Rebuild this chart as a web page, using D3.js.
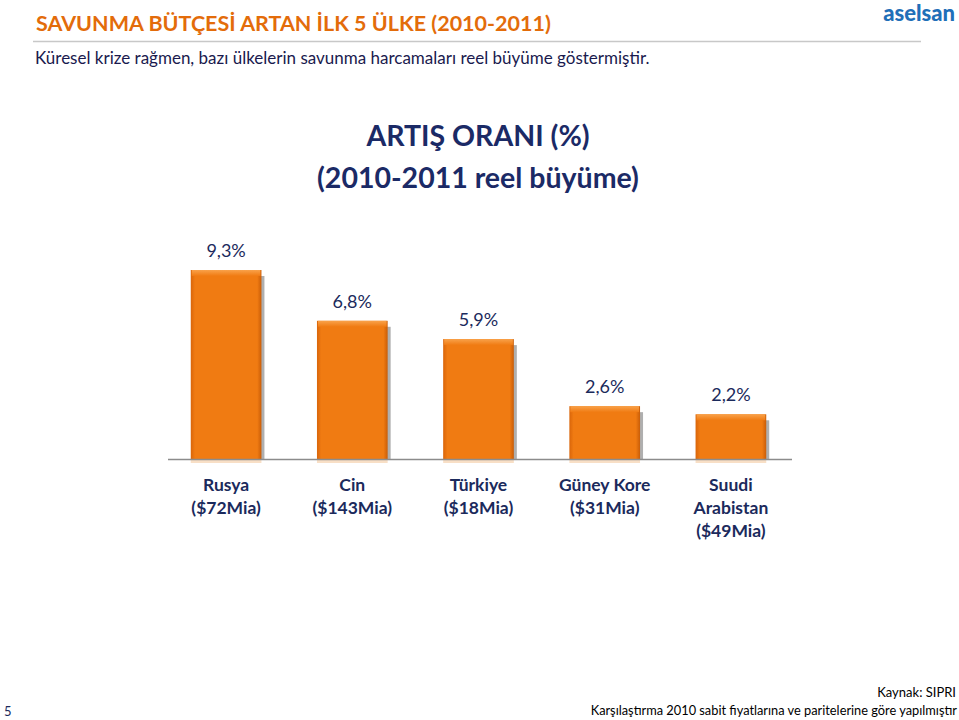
<!DOCTYPE html>
<html>
<head>
<meta charset="utf-8">
<script src="https://cdn.jsdelivr.net/npm/d3@7"></script>
<style>
	body { margin: 0; background: #fff; }
	text { font-family: Lato, 'Open Sans', sans-serif; }
</style>
</head>
<body>
<svg id="chart"></svg>
<script>
const countries = ['Rusya', 'Cin', 'Türkiye', 'Güney Kore', 'Suudi Arabistan']
const labelLines = [
	['Rusya', '($72Mia)'],
	['Cin', '($143Mia)'],
	['Türkiye', '($18Mia)'],
	['Güney Kore', '($31Mia)'],
	['Suudi', 'Arabistan', '($49Mia)']
]
const growth = [9.3, 6.8, 5.9, 2.6, 2.2]
const valueLabels = ['9,3%', '6,8%', '5,9%', '2,6%', '2,2%']

function drawChart() {
	const width = 959
	const height = 720

	const margin = { top: 270, right: 165, bottom: 261, left: 163 }

	const svg = d3.select('#chart').attr('width', width).attr('height', height)

	const xScale = d3
		.scaleBand()
		.domain(countries)
		.range([margin.left, width - margin.right])
		.paddingInner(0.44)
		.paddingOuter(0.22)
	const yScale = d3
		.scaleLinear()
		.domain([0, 9.3])
		.range([height - margin.bottom, margin.top])

	const data = countries.map((c, i) => ({
		country: c,
		value: growth[i],
		label: valueLabels[i],
		lines: labelLines[i]
	}))

	const defs = svg.append('defs')
	const grad = defs
		.append('linearGradient')
		.attr('id', 'barGrad')
		.attr('x1', 0)
		.attr('x2', 1)
	grad.append('stop').attr('offset', '0').attr('stop-color', '#d9650a')
	grad.append('stop').attr('offset', '0.06').attr('stop-color', '#f07b12')
	grad.append('stop').attr('offset', '0.94').attr('stop-color', '#f07b12')
	grad.append('stop').attr('offset', '1').attr('stop-color', '#c95d08')

	const topGrad = defs
		.append('linearGradient')
		.attr('id', 'topGrad')
		.attr('x1', 0)
		.attr('x2', 0)
		.attr('y1', 0)
		.attr('y2', 1)
	topGrad.append('stop').attr('offset', '0').attr('stop-color', '#f9a24a')
	topGrad.append('stop').attr('offset', '1').attr('stop-color', '#f07b12')

	// header
	svg
		.append('text')
		.attr('x', 36)
		.attr('y', 31)
		.attr('fill', '#e36c0a')
		.attr('font-size', 21.5)
		.attr('font-weight', 'bold')
		.text('SAVUNMA BÜTÇESİ ARTAN İLK 5 ÜLKE (2010-2011)')

	svg
		.append('line')
		.attr('x1', 33)
		.attr('x2', 921)
		.attr('y1', 41.5)
		.attr('y2', 41.5)
		.attr('stroke', '#c8c8c8')
		.attr('stroke-width', 1.5)

	svg
		.append('text')
		.attr('x', 35)
		.attr('y', 64)
		.attr('fill', '#1a1a4e')
		.attr('font-size', 17)
		.text('Küresel krize rağmen, bazı ülkelerin savunma harcamaları reel büyüme göstermiştir.')

	svg
		.append('text')
		.attr('x', 955)
		.attr('y', 21)
		.attr('text-anchor', 'end')
		.attr('fill', '#1f6fb8')
		.attr('font-size', 22)
		.attr('font-weight', 900)
		.attr('font-family', 'Roboto, sans-serif')
		.text('aselsan')

	// chart title
	const title = svg
		.append('text')
		.attr('x', 478)
		.attr('text-anchor', 'middle')
		.attr('fill', '#1b2a66')
		.attr('font-size', 28.5)
		.attr('font-weight', 'bold')
	title.append('tspan').attr('x', 478).attr('y', 146).text('ARTIŞ ORANI (%)')
	title.append('tspan').attr('x', 478).attr('y', 188).text('(2010-2011 reel büyüme)')

	// bar shadows
	svg
		.selectAll('rect.shadow')
		.data(data)
		.join('rect')
		.attr('class', 'shadow')
		.attr('x', d => xScale(d.country) + 3)
		.attr('y', d => yScale(d.value) + 6)
		.attr('width', xScale.bandwidth())
		.attr('height', d => yScale(0) - yScale(d.value) - 6)
		.attr('fill', '#7a7a7a')
		.attr('opacity', 0.6)

	svg
		.selectAll('rect.bar')
		.data(data)
		.join('rect')
		.attr('class', 'bar')
		.attr('x', d => xScale(d.country))
		.attr('y', d => yScale(d.value))
		.attr('width', xScale.bandwidth())
		.attr('height', d => yScale(0) - yScale(d.value))
		.attr('fill', 'url(#barGrad)')

	svg
		.selectAll('rect.bartop')
		.data(data)
		.join('rect')
		.attr('class', 'bartop')
		.attr('x', d => xScale(d.country) + 1)
		.attr('y', d => yScale(d.value))
		.attr('width', xScale.bandwidth() - 2)
		.attr('height', 6)
		.attr('fill', 'url(#topGrad)')

	// reflection below axis
	svg
		.selectAll('rect.refl')
		.data(data)
		.join('rect')
		.attr('class', 'refl')
		.attr('x', d => xScale(d.country))
		.attr('y', yScale(0) + 1)
		.attr('width', xScale.bandwidth())
		.attr('height', 3)
		.attr('fill', '#f3c9a0')
		.attr('opacity', 0.6)

	// axis line
	svg
		.append('line')
		.attr('x1', 168)
		.attr('x2', 792)
		.attr('y1', yScale(0) + 0.5)
		.attr('y2', yScale(0) + 0.5)
		.attr('stroke', '#8c8c8c')
		.attr('stroke-width', 1.5)

	// value labels
	svg
		.selectAll('text.value')
		.data(data)
		.join('text')
		.attr('class', 'value')
		.attr('x', d => xScale(d.country) + xScale.bandwidth() / 2)
		.attr('y', d => yScale(d.value) - 13)
		.attr('text-anchor', 'middle')
		.attr('fill', '#1b2a5c')
		.attr('font-size', 18)
		.text(d => d.label)

	// category labels
	const cat = svg
		.selectAll('text.cat')
		.data(data)
		.join('text')
		.attr('class', 'cat')
		.attr('text-anchor', 'middle')
		.attr('fill', '#1b2a5c')
		.attr('font-size', 17.5)
		.attr('font-weight', 'bold')
	cat
		.selectAll('tspan')
		.data(d => d.lines.map(l => ({ l, x: xScale(d.country) + xScale.bandwidth() / 2 })))
		.join('tspan')
		.attr('x', d => d.x)
		.attr('y', (d, i) => yScale(0) + 32 + i * 23)
		.text(d => d.l)

	// footer
	svg
		.append('text')
		.attr('x', 956)
		.attr('y', 697)
		.attr('text-anchor', 'end')
		.attr('fill', '#000')
		.attr('font-size', 13)
		.text('Kaynak: SIPRI')
	svg
		.append('text')
		.attr('x', 957)
		.attr('y', 715)
		.attr('text-anchor', 'end')
		.attr('fill', '#000')
		.attr('font-size', 12.8)
		.text('Karşılaştırma 2010 sabit fiyatlarına ve paritelerine göre yapılmıştır')
	svg
		.append('text')
		.attr('x', 4)
		.attr('y', 716)
		.attr('fill', '#1b2a5c')
		.attr('font-size', 13)
		.text('5')
}

drawChart()
</script>
</body>
</html>
